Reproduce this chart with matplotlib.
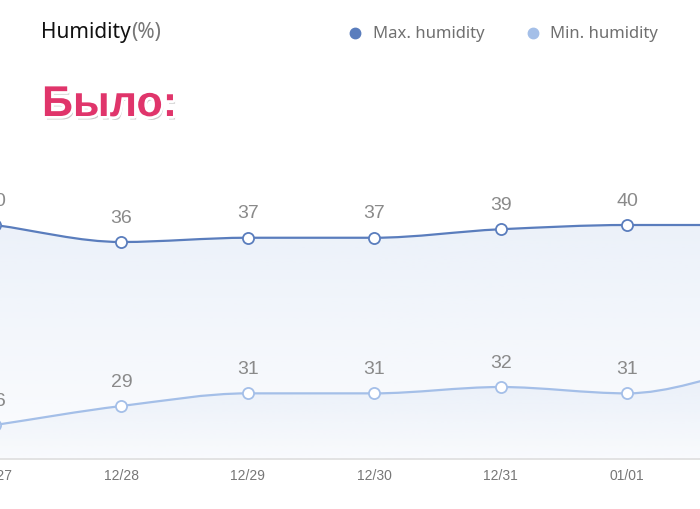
import numpy as np
import matplotlib
matplotlib.use("Agg")
import matplotlib.pyplot as plt
from matplotlib.path import Path
from matplotlib.patches import PathPatch
import matplotlib.patheffects as pe
import matplotlib.transforms as mtransforms

plt.rcParams['font.family'] = ['Noto Sans', 'DejaVu Sans']

# данные
dates = ['12/27', '12/28', '12/29', '12/30', '12/31', '01/01', '01/02']
max_hum = [40, 36, 37, 37, 39, 40, 40]
min_hum = [26, 29, 31, 31, 32, 31, 35]

c_max = '#5a7dbd'
c_min = '#a4bfe8'
grey = '#8a8a8a'


def smooth_path(x, y, y0):
    # монотонная кубическая кривая (как smooth в echarts) через безье
    x = np.asarray(x, float)
    y = np.asarray(y, float)
    d = np.diff(y)
    m = np.zeros(len(y))
    m[0] = d[0]
    m[-1] = d[-1]
    for k in range(1, len(y) - 1):
        if d[k - 1] * d[k] > 0:
            m[k] = 2.0 / (1.0 / d[k - 1] + 1.0 / d[k])
    verts = [(x[0], y[0])]
    codes = [Path.MOVETO]
    for k in range(len(x) - 1):
        verts += [(x[k] + 1 / 3, y[k] + m[k] / 3),
                  (x[k + 1] - 1 / 3, y[k + 1] - m[k + 1] / 3),
                  (x[k + 1], y[k + 1])]
        codes += [Path.CURVE4] * 3
    line = Path(verts, codes)
    area = Path(verts + [(x[-1], y0), (x[0], y0), (x[0], y[0])],
                codes + [Path.LINETO, Path.LINETO, Path.CLOSEPOLY])
    return line, area


fig = plt.figure(figsize=(7, 5.1), dpi=100)
fig.patch.set_facecolor('white')
ax = fig.add_axes([0, 50 / 510, 1, 330 / 510])
ax2 = ax.twinx()

xs = np.arange(len(dates))
xlim = (5 / 126.4, 705 / 126.4)
n_vis = 6  # последняя точка (01/02) за правым краем кадра

for a, vals, col, ylim, ga in [(ax, max_hum, c_max, (-15.06, 62.59), 0.5),
                               (ax2, min_hum, c_min, (20.63, 72.76), 0.45)]:
    a.set_xlim(*xlim)
    a.set_ylim(*ylim)
    line, area = smooth_path(xs, vals, ylim[0])
    # градиентная заливка
    grad = np.linspace(1, 0, 256).reshape(-1, 1)
    img = np.zeros((256, 1, 4))
    img[..., 0] = 0xd8 / 255
    img[..., 1] = 0xe3 / 255
    img[..., 2] = 0xf4 / 255
    img[..., 3] = ga * (0.15 + 0.85 * grad[:, 0:1])
    top = max(vals) + 1
    im = a.imshow(img, aspect='auto', extent=(xs[0], xs[-1], ylim[0], top),
                  origin='upper', zorder=1, interpolation='bilinear')
    patch = PathPatch(area, facecolor='none', edgecolor='none')
    a.add_patch(patch)
    im.set_clip_path(patch)
    a.add_patch(PathPatch(line, facecolor='none', edgecolor=col, lw=1.6, zorder=3))
    a.plot(xs, vals, 'o', ms=8, mfc='white', mec=col, mew=1.3, zorder=4, clip_on=False)
    for xi, v in zip(xs[:n_vis], vals[:n_vis]):
        a.annotate(str(v), (xi, v), xytext=(0, 25), textcoords='offset pixels',
                   ha='center', va='center', fontsize=14, color=grey,
                   family=['Liberation Sans'], annotation_clip=False)

ax.patch.set_alpha(0)
ax2.patch.set_alpha(0)
for a in (ax, ax2):
    for s in ['top', 'right', 'left']:
        a.spines[s].set_visible(False)
    a.spines['bottom'].set_color('#dedede')
    a.spines['bottom'].set_linewidth(1.2)
    a.set_yticks([])
    a.set_xticks([])
ax2.spines['bottom'].set_visible(False)
ax.set_xlim(*xlim)
ax2.set_xlim(*xlim)

# подписи дат (вручную, чтобы край 12/27 тоже был виден)
trans = mtransforms.blended_transform_factory(ax.transData, ax.transAxes)
for xi, lab in zip(xs[:n_vis], dates[:n_vis]):
    ax.text(xi, -16 / 330, lab, transform=trans, ha='center', va='center',
            fontsize=10, color='#777777', family=['Liberation Sans'], clip_on=False)

# заголовок и легенда
fig.text(41 / 700, 1 - 38 / 510, 'Humidity', fontsize=15, color='#111111', va='baseline')
fig.text(131 / 700, 1 - 38 / 510, '(%)', fontsize=15, color='#777777', va='baseline')
fig.lines.append(plt.Line2D([355 / 700], [1 - 34 / 510], marker='o', ms=7.5,
                            color=c_max, transform=fig.transFigure))
fig.text(373 / 700, 1 - 34 / 510, 'Max. humidity', fontsize=12, color='#707070', va='center')
fig.lines.append(plt.Line2D([533 / 700], [1 - 34 / 510], marker='o', ms=7.5,
                            color=c_min, transform=fig.transFigure))
fig.text(550 / 700, 1 - 34 / 510, 'Min. humidity', fontsize=12, color='#707070', va='center')

fig.text(42 / 700, 1 - 117 / 510, 'Было:', fontsize=31, fontweight='bold', color='#e0356b',
         va='baseline', family=['Liberation Sans', 'DejaVu Sans'],
         path_effects=[pe.SimplePatchShadow(offset=(1.5, -2.5), shadow_rgbFace='#888888', alpha=0.45),
                       pe.withStroke(linewidth=4, foreground='white')])

fig.savefig('out.png', dpi=100, facecolor='white')
